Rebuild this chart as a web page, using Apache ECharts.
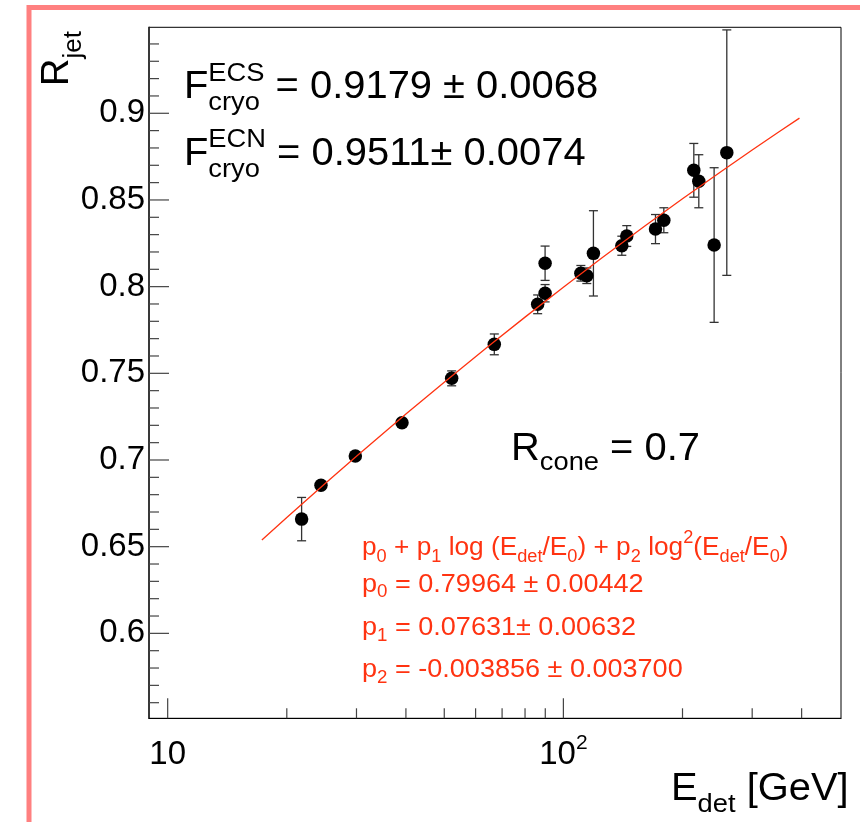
<!DOCTYPE html>
<html>
<head>
<meta charset="utf-8">
<script src="https://cdn.jsdelivr.net/npm/echarts@6/dist/echarts.min.js"></script>
<style>
  html, body { margin: 0; padding: 0; background: #fff; }
  #chart { width: 860px; height: 822px; }
</style>
</head>
<body>
<div id="chart"></div>
<script>
// Jet response R_jet versus detector-level jet energy (cone size 0.7)
const energies = [21.8, 24.4, 29.8, 39.1, 52.2, 66.9, 86.1, 89.9, 89.9, 110.7,
                  114.6, 119.1, 140.5, 144.6, 170.9, 179.4, 213.6, 219.9, 240.4, 258.8];
const response = [0.6659, 0.6854, 0.7023, 0.7215, 0.7471, 0.7667, 0.7898, 0.7962, 0.8135, 0.8077,
                  0.8063, 0.8192, 0.8236, 0.8292, 0.8332, 0.8383, 0.8671, 0.8608, 0.8240, 0.8773];
const responseErr = [0.0125, 0.002, 0.0015, 0.0015, 0.0043, 0.0060, 0.0054, 0.0050, 0.0099, 0.0045,
                     0.0045, 0.0246, 0.0055, 0.0060, 0.0084, 0.0072, 0.0155, 0.0153, 0.0446, 0.0708];

// Fit: p0 + p1 ln(E/E0) + p2 ln^2(E/E0), E0 = 100 GeV
const fitParams = [0.79964, 0.07631, -0.003856];
const fitE0 = 100;
const fitEnergies = [17.3, 20, 25, 30, 40, 50, 65, 80, 100, 125, 160, 200, 250, 300, 350, 395];

// Axis ticks
const xMajorTicks = [10, 100];
const xMinorTicks = [20, 30, 40, 50, 60, 70, 80, 90, 200, 300, 400];
const yMajorTicks = [0.6, 0.65, 0.7, 0.75, 0.8, 0.85, 0.9];
const yMinorTicks = [0.56, 0.57, 0.58, 0.59, 0.61, 0.62, 0.63, 0.64, 0.66, 0.67, 0.68, 0.69,
                     0.71, 0.72, 0.73, 0.74, 0.76, 0.77, 0.78, 0.79, 0.81, 0.82, 0.83, 0.84,
                     0.86, 0.87, 0.88, 0.89, 0.91, 0.92, 0.93, 0.94];

const X_MIN = 8.97, X_MAX = 503, Y_MIN = 0.551, Y_MAX = 0.9496;

const FONT = '"Liberation Sans", Arial, Helvetica, sans-serif';
const FIT_RED = '#ff3311';

function fitValue(e) {
  const l = Math.log(e / fitE0);
  return fitParams[0] + fitParams[1] * l + fitParams[2] * l * l;
}

// --- text layout helpers (sub/superscripts built from pieces on a shared baseline) ---
const measureCtx = document.createElement('canvas').getContext('2d');
function advance(t, size) {
  measureCtx.font = size + 'px ' + FONT;
  return measureCtx.measureText(t).width;
}
function middleToBaseline(size) {
  measureCtx.font = size + 'px ' + FONT;
  measureCtx.textBaseline = 'middle';
  const d = measureCtx.measureText('H').actualBoundingBoxDescent;
  measureCtx.textBaseline = 'alphabetic';
  return (d > 0 && d < size) ? d : 0.347 * size;
}
// pieces marked hold:true do not move the pen (stacked super/subscript pair)
function textRun(x, baseline, parts, color, sx, rotation) {
  const children = [];
  let pen = 0, held = 0;
  parts.forEach(p => {
    const w = advance(p.t, p.s);
    children.push({
      type: 'text',
      x: pen * sx,
      y: (p.dy || 0) - middleToBaseline(p.s),
      scaleX: sx,
      style: {
        text: p.t, fontSize: p.s, fontFamily: FONT, fill: color,
        align: 'left', verticalAlign: 'middle',
        textAlign: 'left', textVerticalAlign: 'middle'
      }
    });
    if (p.hold) held = Math.max(held, w);
    else { pen += Math.max(w, held); held = 0; }
  });
  return { type: 'group', x: x, y: baseline, rotation: rotation || 0, children: children };
}

const graphics = [
  // canvas frame
  {
    type: 'rect', silent: true,
    shape: { x: 29, y: 7.5, width: 1000, height: 1000 },
    style: { fill: 'none', stroke: '#ff8080', lineWidth: 5 }
  },
  // axis titles
  textRun(68.3, 86, [{ t: 'R', s: 38 }, { t: 'jet', s: 26, dy: 13 }], '#000', 1.0, Math.PI / 2),
  textRun(671, 800, [{ t: 'E', s: 38 }, { t: 'det', s: 26, dy: 11.7 }, { t: ' [GeV]', s: 38 }], '#000', 1.05),
  // cryostat factors
  textRun(184, 98, [
    { t: 'F', s: 38 }, { t: 'ECS', s: 26, dy: -17.5, hold: true }, { t: 'cryo', s: 26, dy: 12 },
    { t: ' = 0.9179 ± 0.0068', s: 38 }
  ], '#000', 1.05),
  textRun(184, 164.5, [
    { t: 'F', s: 38 }, { t: 'ECN', s: 26, dy: -17.5, hold: true }, { t: 'cryo', s: 26, dy: 12 },
    { t: ' = 0.9511± 0.0074', s: 38 }
  ], '#000', 1.05),
  // cone size
  textRun(511, 460, [{ t: 'R', s: 38 }, { t: 'cone', s: 26, dy: 10 }, { t: ' = 0.7', s: 38 }], '#000', 1.05),
  // fit function and parameters
  textRun(362, 555, [
    { t: 'p', s: 26 }, { t: '0', s: 18, dy: 6.5 }, { t: ' + p', s: 26 }, { t: '1', s: 18, dy: 6.5 },
    { t: ' log (E', s: 26 }, { t: 'det', s: 18, dy: 6.5 }, { t: '/E', s: 26 }, { t: '0', s: 18, dy: 6.5 },
    { t: ') + p', s: 26 }, { t: '2', s: 18, dy: 6.5 }, { t: ' log', s: 26 }, { t: '2', s: 18, dy: -11.7 },
    { t: '(E', s: 26 }, { t: 'det', s: 18, dy: 6.5 }, { t: '/E', s: 26 }, { t: '0', s: 18, dy: 6.5 },
    { t: ')', s: 26 }
  ], FIT_RED, 1.01),
  textRun(362, 591.7, [{ t: 'p', s: 26 }, { t: '0', s: 18, dy: 5.5 }, { t: ' = 0.79964 ± 0.00442', s: 26 }], FIT_RED, 1.04),
  textRun(362, 635, [{ t: 'p', s: 26 }, { t: '1', s: 18, dy: 5.5 }, { t: ' = 0.07631± 0.00632', s: 26 }], FIT_RED, 1.04),
  textRun(362, 677.3, [{ t: 'p', s: 26 }, { t: '2', s: 18, dy: 5.5 }, { t: ' = -0.003856 ± 0.003700', s: 26 }], FIT_RED, 1.04)
];

// tick marks drawn inward from the axes: [x, y, direction(0 = x axis, 1 = y axis), length]
const tickData = []
  .concat(xMajorTicks.map(v => [v, Y_MIN, 0, 20]))
  .concat(xMinorTicks.map(v => [v, Y_MIN, 0, 10]))
  .concat(yMajorTicks.map(v => [X_MIN, v, 1, 20]))
  .concat(yMinorTicks.map(v => [X_MIN, v, 1, 10]));

const chart = echarts.init(document.getElementById('chart'), null, { renderer: 'canvas' });

chart.setOption({
  animation: false,
  backgroundColor: '#fff',
  textStyle: { fontFamily: FONT },
  grid: {
    left: 149, top: 27.3, right: 19, bottom: 103.7,
    show: true, borderColor: '#000', borderWidth: 1,
    outerBoundsMode: 'none'
  },
  xAxis: {
    type: 'log', logBase: 10, min: X_MIN, max: X_MAX,
    axisLine: { show: true, lineStyle: { color: '#000', width: 1.2 } },
    axisTick: { show: false },
    minorTick: { show: false },
    splitLine: { show: false },
    axisLabel: {
      margin: 14.5,
      formatter: v => {
        const p = Math.log10(v);
        if (Math.abs(p - Math.round(p)) > 1e-6) return '';
        const n = Math.round(p);
        return n === 1 ? '{m|10}' : '{m|10}{s|' + n + '}';
      },
      rich: {
        m: { fontSize: 33, lineHeight: 45, fontFamily: FONT, color: '#000' },
        s: { fontSize: 21, lineHeight: 21, verticalAlign: 'top', fontFamily: FONT, color: '#000' }
      }
    }
  },
  yAxis: {
    type: 'value', min: Y_MIN, max: Y_MAX,
    axisLine: { show: true, lineStyle: { color: '#222', width: 1.5 } },
    axisTick: { show: false },
    splitLine: { show: false },
    axisLabel: {
      customValues: yMajorTicks,
      margin: 4,
      fontSize: 33, fontFamily: FONT, color: '#000',
      formatter: v => String(Math.round(v * 100) / 100)
    }
  },
  graphic: graphics,
  series: [
    {
      name: 'ticks', type: 'custom', silent: true, z: 5,
      data: tickData,
      encode: { x: 0, y: 1 },
      renderItem: (params, api) => {
        const p = api.coord([api.value(0), api.value(1)]);
        const dir = api.value(2), len = api.value(3);
        const shape = dir === 0
          ? { x1: p[0], y1: p[1], x2: p[0], y2: p[1] - len }
          : { x1: p[0], y1: p[1], x2: p[0] + len, y2: p[1] };
        return { type: 'line', shape: shape, style: { stroke: '#444', lineWidth: 1.2 } };
      }
    },
    {
      name: 'errors', type: 'custom', silent: true, z: 2,
      data: energies.map((e, i) => [e, response[i], responseErr[i]]),
      encode: { x: 0, y: 1 },
      renderItem: (params, api) => {
        const x = api.value(0), y = api.value(1), err = api.value(2);
        const top = api.coord([x, y + err]);
        const bot = api.coord([x, y - err]);
        const cap = 4.5;
        const st = { stroke: '#333', lineWidth: 1.3 };
        return {
          type: 'group',
          children: [
            { type: 'line', shape: { x1: top[0], y1: top[1], x2: bot[0], y2: bot[1] }, style: st },
            { type: 'line', shape: { x1: top[0] - cap, y1: top[1], x2: top[0] + cap, y2: top[1] }, style: st },
            { type: 'line', shape: { x1: bot[0] - cap, y1: bot[1], x2: bot[0] + cap, y2: bot[1] }, style: st }
          ]
        };
      }
    },
    {
      name: 'R_jet', type: 'scatter', z: 3,
      symbol: 'circle', symbolSize: 13.5,
      itemStyle: { color: '#000', opacity: 1 },
      data: energies.map((e, i) => [e, response[i]])
    },
    {
      name: 'fit', type: 'line', z: 4,
      showSymbol: false, smooth: false,
      lineStyle: { color: FIT_RED, width: 1.3 },
      data: fitEnergies.map(e => [e, fitValue(e)])
    }
  ]
});
</script>
</body>
</html>
